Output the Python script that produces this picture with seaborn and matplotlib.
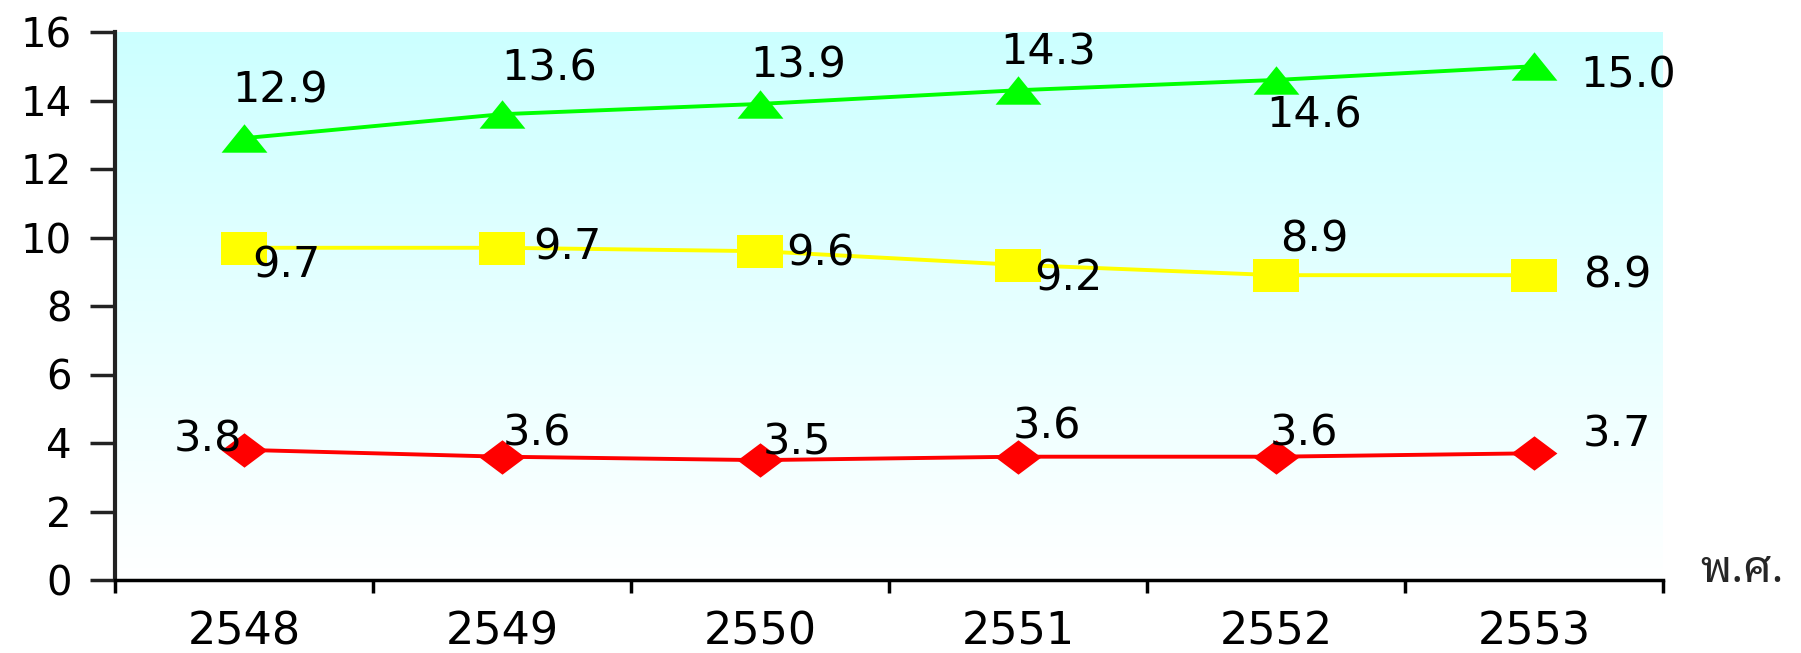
import numpy as np
import pandas as pd
import matplotlib
matplotlib.use('Agg')
import matplotlib.pyplot as plt
from matplotlib import font_manager
import seaborn as sns

# ข้อมูลจากกราฟ
years = ['2548', '2549', '2550', '2551', '2552', '2553']
green_vals = [12.9, 13.6, 13.9, 14.3, 14.6, 15.0]
yellow_vals = [9.7, 9.7, 9.6, 9.2, 8.9, 8.9]
red_vals = [3.8, 3.6, 3.5, 3.6, 3.6, 3.7]

# ตำแหน่งป้ายตัวเลข (offset เป็นพิกเซล)
green_off = [(36, 48), (47, 46), (38, 38), (30, 38), (38, -36), (94, -9)]
yellow_off = [(42, -18), (65, 0), (60, -2), (50, -14), (38, 36), (83, 0)]
red_off = [(-36, 10), (35, 23), (37, 18), (29, 30), (28, 23), (83, 19)]

sns.set_style("white")
plt.rcParams['font.family'] = ['DejaVu Sans']

# หาฟอนต์ไทยที่มีอยู่ในเครื่อง
installed = {f.name for f in font_manager.fontManager.ttflist}
thai_font = next((f for f in ['Noto Sans Thai Looped', 'Noto Sans Thai', 'Sarabun',
                              'Anuphan', 'Athiti'] if f in installed), 'DejaVu Sans')

fig = plt.figure(figsize=(18.01, 6.53), dpi=100)
ax = fig.add_axes([115 / 1801, 73 / 653, 1548 / 1801, 548 / 653])

x = np.arange(len(years))
df = pd.DataFrame({'x': x, 'green': green_vals, 'yellow': yellow_vals, 'red': red_vals})

# พื้นหลังไล่สี ฟ้าอ่อน (บน) -> ขาว (ล่าง)
grad = np.linspace(0, 1, 256).reshape(-1, 1, 1)
top = np.array([0.80, 1.0, 1.0])
bot = np.array([1.0, 1.0, 1.0])
img = top + (bot - top) * grad * np.ones((1, 2, 1))
ax.imshow(img, extent=(-0.5, 5.5, 0, 16), origin='upper', aspect='auto', zorder=0)

tri = [(-1, -0.62), (1, -0.62), (0, 0.62)]
sq = [(-1, -0.72), (1, -0.72), (1, 0.72), (-1, 0.72)]
dia = [(-1, 0), (0, 0.75), (1, 0), (0, -0.75)]

series = [
    ('green', '#00ff00', tri, green_off),
    ('yellow', '#ffff00', sq, yellow_off),
    ('red', '#ff0000', dia, red_off),
]
for col, color, mk, offs in series:
    sns.lineplot(data=df, x='x', y=col, ax=ax, color=color, lw=2.8,
                 marker=mk, markersize=33, markeredgewidth=0, sort=False, zorder=3)
    for xi, v, (dx, dy) in zip(x, df[col], offs):
        ax.annotate(f'{v:.1f}', (xi, v), xytext=(dx, dy), textcoords='offset pixels',
                    ha='center', va='center', fontsize=31, color='black', zorder=4)

ax.set_xlim(-0.5, 5.5)
ax.set_ylim(0, 16)
ax.set_yticks(range(0, 17, 2))
ax.set_xticks(x)
ax.set_xticklabels(years)
ax.set_xticks(np.arange(-0.5, 6, 1), minor=True)
ax.set_xlabel('')
ax.set_ylabel('')

for s in ['top', 'right']:
    ax.spines[s].set_visible(False)
ax.spines['left'].set_color('#222222')
ax.spines['left'].set_linewidth(3)
ax.spines['bottom'].set_color('black')
ax.spines['bottom'].set_linewidth(2.5)

ax.tick_params(axis='y', which='major', direction='out', length=18, width=2.5,
               color='#222222', labelsize=29, pad=13, left=True, labelcolor='black')
ax.tick_params(axis='x', which='major', length=0, labelsize=32, pad=22, labelcolor='black')
ax.tick_params(axis='x', which='minor', direction='out', length=9, width=2.5,
               color='black', bottom=True)

fig.text(1700 / 1801, 1 - 582 / 653, 'พ.ศ.', fontsize=32, ha='left', va='baseline',
         family=[thai_font, 'DejaVu Sans'])

fig.savefig('out.png', dpi=100)
